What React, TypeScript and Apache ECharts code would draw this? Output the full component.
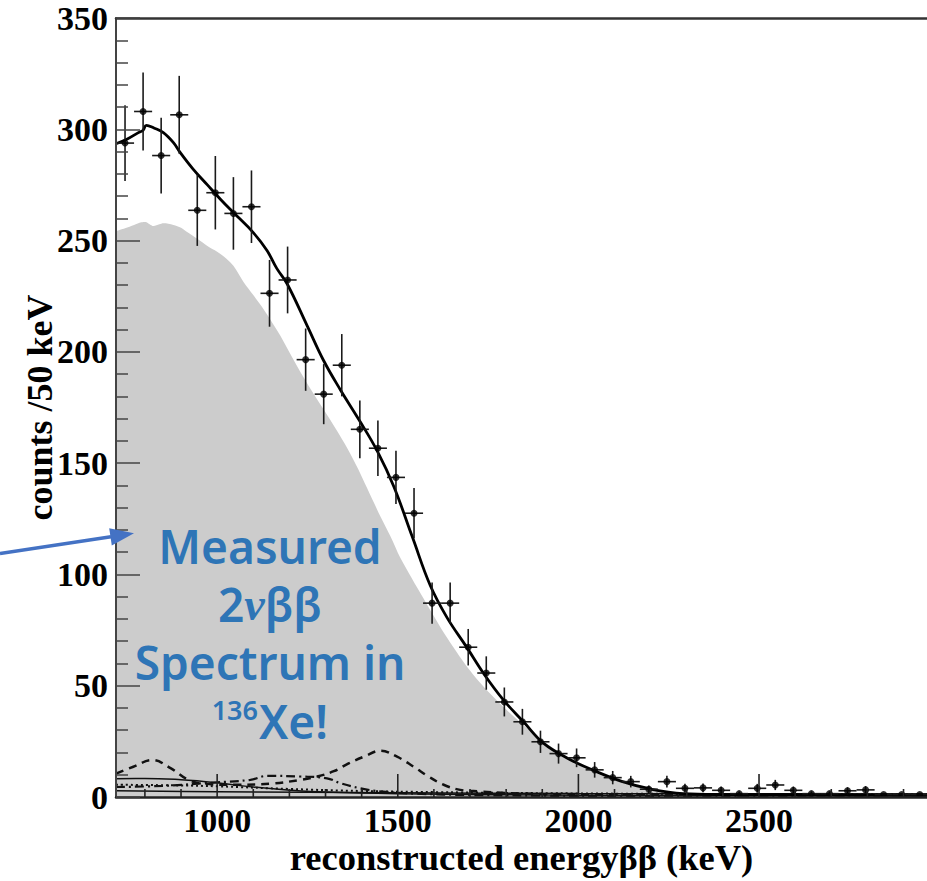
import React, { useEffect, useRef } from "react";
import * as echarts from "echarts";

// ---- data ----
const xMin = 720;
const xMax = 2965;
const xMajorTicks = [1000, 1500, 2000, 2500];
const xMinorTicks = [800, 900, 1100, 1200, 1300, 1400, 1600, 1700, 1800, 1900, 2100, 2200, 2300, 2400, 2600, 2700, 2800, 2900];
const yMin = 0;
const yMax = 350;
const yInterval = 50;

// bin centres (keV), measured counts and their error bars
const binCenters = [745, 795, 845, 895, 945, 995, 1045, 1095, 1145, 1195, 1245, 1295, 1345, 1395, 1445, 1495, 1545, 1595, 1645, 1695, 1745, 1795, 1845, 1895, 1945, 1995, 2045, 2095, 2145, 2195, 2245, 2295, 2345, 2395, 2445, 2495, 2545, 2595, 2645, 2695, 2745, 2795, 2845, 2895, 2945];
const counts = [293.8, 308, 288.2, 306.5, 263.6, 271.5, 262.2, 265.2, 226.3, 232.3, 196.5, 181, 194, 165.2, 156.7, 143.6, 127.5, 87.1, 87.1, 67.3, 55.7, 42.7, 33.8, 24.8, 19.5, 17.6, 12.2, 8.7, 6.9, 3.5, 6.9, 3.9, 4.1, 3, 1.5, 3.9, 5.4, 3, 1.5, 1.5, 2.8, 3.2, 1.1, 1.1, 1.1];
const errors = [17, 17.5, 17, 17.5, 16, 16.5, 16.3, 16.3, 15, 15, 14, 13.5, 14, 13, 12.5, 12, 11.3, 9.3, 9.3, 8.2, 7.5, 6.5, 5.8, 5, 4.5, 4.2, 3.5, 3, 2.6, 1.7, 2.6, 2, 2, 1.7, 1, 2, 2.3, 1.7, 1, 1, 1.6, 1.7, 0.5, 0.5, 0.5];

// total fit (solid black curve)
const fitTotal = [[720, 293.5], [750, 295.5], [782, 298.5], [795, 299.6], [804, 301.8], [825, 300.6], [851, 298.5], [879, 294], [898, 289.5], [934, 282], [973, 275], [1009, 268.6], [1045, 262.6], [1100, 253.6], [1138, 245.5], [1165, 237.5], [1194, 230.5], [1249, 211.8], [1295, 196], [1341, 183], [1396, 168.6], [1443, 155.5], [1489, 139.5], [1540, 117], [1590, 95], [1636, 80.7], [1692, 67], [1738, 55.4], [1793, 43.5], [1848, 33.8], [1904, 24.1], [1975, 17], [2041, 12], [2120, 7], [2199, 3.6], [2290, 1.5], [2400, 1.1], [2600, 1], [2965, 0.9]];

// measured 2vbb spectrum (grey area)
const spectrum2nu = [[720, 254.2], [745, 255.5], [770, 257], [790, 258.2], [802, 258.4], [812, 257.5], [824, 256.5], [840, 257.3], [851, 257.8], [865, 257.6], [879, 257], [900, 255.8], [918, 253.7], [945, 250.8], [973, 247.6], [1000, 245], [1025, 242], [1045, 238.7], [1073, 231.4], [1100, 225.5], [1128, 219.3], [1150, 213.8], [1175, 207.2], [1200, 199.8], [1230, 191.1], [1260, 183], [1294, 174.3], [1330, 165], [1361, 156.5], [1390, 147.5], [1415, 138.8], [1452, 126], [1480, 117], [1507, 107.5], [1571, 89.3], [1637, 71.4], [1709, 54.9], [1792, 40.5], [1886, 27.1], [1950, 20], [2041, 11.3], [2120, 6.5], [2199, 3.3], [2290, 1.1], [2400, 0.3], [2500, 0], [2965, 0]];

// background components
const compDashed = [[720, 10.5], [768, 13.6], [820, 16.6], [871, 13], [917, 8], [960, 6], [1050, 5.5], [1150, 6], [1230, 7.7], [1277, 9.2], [1323, 11.6], [1364, 15.1], [1406, 18.1], [1452, 20.8], [1498, 18.1], [1544, 13.6], [1585, 9.2], [1627, 5.5], [1673, 3.2], [1729, 2.5], [1800, 1.8], [1900, 1.3], [2100, 1], [2965, 0.8]];
const compDashDot = [[720, 4.5], [850, 5], [990, 6.5], [1092, 7.7], [1138, 9.5], [1230, 9.2], [1304, 8.4], [1341, 6.2], [1397, 3.9], [1452, 2.5], [1550, 1.5], [1700, 0.9], [2000, 0.5], [2965, 0.3]];
const compSolid = [[720, 8.2], [800, 8.3], [900, 7.8], [950, 7.2], [1010, 6.2], [1100, 4.5], [1194, 3.2], [1300, 2.2], [1500, 1.5], [2000, 0.8], [2965, 0.5]];
const compDotted = [[720, 5.5], [900, 5.2], [1000, 4.8], [1200, 3.6], [1400, 2.7], [1600, 2.2], [2000, 1.6], [2500, 1.3], [2965, 1.1]];
const compFlat = [[720, 2.8], [1000, 2.4], [1500, 1.9], [2000, 1.6], [2965, 1.4]];

const xAxisName = "reconstructed energyββ (keV)";
const yAxisName = "counts /50 keV";

const SERIF = '"Liberation Serif", "Times New Roman", serif';
const SANS = '"Noto Sans", "Open Sans", sans-serif';
const BLUE_TEXT = "#2e75b6";
const BLUE_ARROW = "#4472c4";

export default function App() {
  const ref = useRef<HTMLDivElement>(null);

  useEffect(() => {
    if (!ref.current) return;
    const chart = echarts.init(ref.current, null, { renderer: "svg" });

    const errData = binCenters.map((x, i) => [x, counts[i], errors[i]]);
    const pointData = binCenters.map((x, i) => [x, counts[i]]);

    const compLine = (data: number[][], type: any, width: number) => ({
      type: "line",
      data,
      smooth: 0.4,
      showSymbol: false,
      silent: true,
      z: 3,
      lineStyle: { color: "#111", width, type },
    });

    const tickSeries = (values: number[], len: number) => ({
      type: "scatter",
      data: values.map((v) => [v, yMin]),
      symbol: "rect",
      symbolSize: [1.6, len],
      symbolOffset: [0, -len / 2],
      clip: false,
      silent: true,
      z: 8,
      itemStyle: { color: "#222", opacity: 1 },
    });

    const plain = (v: number) => String(v);

    const option: any = {
      animation: false,
      backgroundColor: "#ffffff",
      grid: { left: 116, right: 0, top: 18, bottom: 80, containLabel: false },
      xAxis: [
        {
          type: "value",
          position: "bottom",
          min: xMin,
          max: xMax,
          z: 20,
          axisLine: { show: true, onZero: false, lineStyle: { color: "#222", width: 2.5 } },
          axisTick: { show: false },
          axisLabel: {
            show: true,
            customValues: xMajorTicks,
            formatter: plain,
            margin: 6,
            color: "#000",
            fontFamily: SERIF,
            fontWeight: "bold",
            fontSize: 34,
          },
          splitLine: { show: false },
          name: xAxisName,
          nameLocation: "middle",
          nameGap: 42,
          nameMoveOverlap: false,
          nameTextStyle: { color: "#000", fontFamily: SERIF, fontWeight: "bold", fontSize: 36.5 },
        },
        {
          type: "value",
          position: "top",
          min: xMin,
          max: xMax,
          z: 20,
          axisLine: { show: true, onZero: false, lineStyle: { color: "#333", width: 2.5 } },
          axisTick: { show: false },
          axisLabel: { show: false },
          splitLine: { show: false },
        },
      ],
      yAxis: [
        {
          type: "value",
          position: "left",
          min: yMin,
          max: yMax,
          interval: yInterval,
          z: 20,
          axisLine: { show: true, onZero: false, lineStyle: { color: "#444", width: 2 } },
          axisTick: { show: true, inside: true, length: 24, lineStyle: { color: "#444", width: 1.5 } },
          minorTick: { show: true, splitNumber: 5, length: 12, lineStyle: { color: "#444", width: 1.5 } },
          axisLabel: {
            show: true,
            formatter: plain,
            margin: 8,
            color: "#000",
            fontFamily: SERIF,
            fontWeight: "bold",
            fontSize: 34,
            padding: [7, 0, 0, 0],
          },
          splitLine: { show: false },
          name: yAxisName,
          nameLocation: "middle",
          nameRotate: 90,
          nameGap: 58,
          nameMoveOverlap: false,
          nameTextStyle: { color: "#000", fontFamily: SERIF, fontWeight: "bold", fontSize: 36 },
        },
      ],
      series: [
        {
          type: "line",
          data: spectrum2nu,
          smooth: 0.3,
          showSymbol: false,
          silent: true,
          z: 1,
          lineStyle: { width: 0, color: "#cccccc" },
          areaStyle: { color: "#cccccc", opacity: 1 },
        },
        compLine(compFlat, "solid", 1.5),
        compLine(compDotted, [2, 3], 2),
        compLine(compSolid, "solid", 1.5),
        compLine(compDashDot, [9, 4, 2, 4], 2.2),
        compLine(compDashed, [8, 6], 2.5),
        {
          type: "line",
          data: fitTotal,
          smooth: 0.4,
          showSymbol: false,
          silent: true,
          z: 4,
          lineStyle: { color: "#000", width: 2.8 },
        },
        tickSeries(xMinorTicks, 8),
        tickSeries(xMajorTicks, 23),
        {
          type: "custom",
          data: errData,
          z: 5,
          silent: true,
          encode: { x: 0, y: 1 },
          renderItem: (params: any, api: any) => {
            const x = api.value(0);
            const y = api.value(1);
            const e = api.value(2);
            const c = api.coord([x, y]);
            const t = api.coord([x, y + e]);
            const b = api.coord([x, Math.max(0, y - e)]);
            const l = api.coord([Math.max(xMin, x - 25), y]);
            const r = api.coord([Math.min(xMax, x + 25), y]);
            const st = { stroke: "#1a1a1a", lineWidth: 1.6 };
            return {
              type: "group",
              children: [
                { type: "line", shape: { x1: c[0], y1: t[1], x2: c[0], y2: b[1] }, style: st },
                { type: "line", shape: { x1: l[0], y1: c[1], x2: r[0], y2: c[1] }, style: st },
              ],
            };
          },
        },
        {
          type: "scatter",
          data: pointData,
          symbol: "circle",
          symbolSize: 7,
          z: 6,
          silent: true,
          itemStyle: { color: "#000" },
        },
      ],
      graphic: [
        { type: "line", shape: { x1: 0, y1: 553.5, x2: 111, y2: 536.8 }, style: { stroke: BLUE_ARROW, lineWidth: 3.5 }, z: 100 },
        { type: "polygon", shape: { points: [[134, 533.2], [111.8, 545.4], [109.2, 528.2]] }, style: { fill: BLUE_ARROW }, z: 100 },
        {
          type: "text", x: 270, y: 546, z: 100,
          style: { text: "Measured", fill: BLUE_TEXT, fontFamily: SANS, fontWeight: 600, fontSize: 46, lineHeight: 46, textAlign: "center", textVerticalAlign: "middle" },
        },
        {
          type: "text", x: 270, y: 604, z: 100,
          style: {
            text: "{a|2}{i|ν}{a|ββ}",
            textAlign: "center", textVerticalAlign: "middle",
            rich: {
              a: { fill: BLUE_TEXT, fontFamily: SANS, fontWeight: 600, fontSize: 46, lineHeight: 46 },
              i: { fill: BLUE_TEXT, fontFamily: SERIF, fontStyle: "italic", fontWeight: "bold", fontSize: 46, lineHeight: 46 },
            },
          },
        },
        {
          type: "text", x: 270, y: 662, z: 100,
          style: { text: "Spectrum in", fill: BLUE_TEXT, fontFamily: SANS, fontWeight: 600, fontSize: 46, lineHeight: 44, textAlign: "center", textVerticalAlign: "middle" },
        },
        {
          type: "text", x: 258, y: 709, z: 100,
          style: { text: "136", fill: BLUE_TEXT, fontFamily: SANS, fontWeight: 600, fontSize: 27, lineHeight: 22, textAlign: "right", textVerticalAlign: "middle" },
        },
        {
          type: "text", x: 259, y: 721, z: 100,
          style: { text: "Xe!", fill: BLUE_TEXT, fontFamily: SANS, fontWeight: 600, fontSize: 46, lineHeight: 44, textAlign: "left", textVerticalAlign: "middle" },
        },
      ],
    };

    chart.setOption(option);
    return () => chart.dispose();
  }, []);

  return (
    <div
      ref={ref}
      style={{ position: "absolute", left: 0, top: 0, width: 927, height: 881, background: "#fff" }}
    />
  );
}
